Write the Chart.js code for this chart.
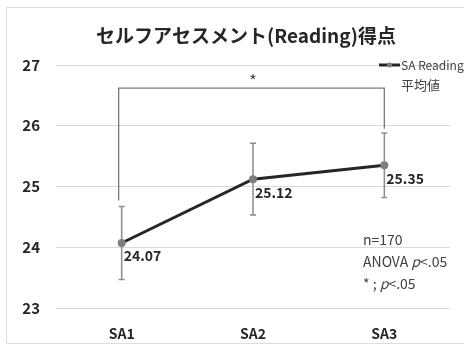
<!DOCTYPE html>
<html>
<head>
<meta charset="utf-8">
<script src="https://cdn.jsdelivr.net/npm/chart.js@4/dist/chart.umd.min.js"></script>
<style>
  html, body { margin: 0; padding: 0; background: #fff; }
  #wrap { width: 464px; height: 353px; position: relative; }
</style>
</head>
<body>
<div id="wrap"><canvas id="c" width="464" height="353"></canvas></div>
<script>
// Self-assessment (Reading) mean scores across three sessions
const categories = ['SA1', 'SA2', 'SA3'];
const means = [24.07, 25.12, 25.35];
const errors = [0.60, 0.59, 0.53];
const yTicks = [23, 24, 25, 26, 27];
const seriesName = 'SA Reading';
const seriesName2 = '平均値';
const chartTitle = 'セルフアセスメント(Reading)得点';
const notes = ['n=170', 'ANOVA ', '* ; '];
// significance bracket between SA1 and SA3 (value units)
const bracketFrom = 0;
const bracketTo = 2;
const bracketTop = 26.62;
const bracketLeftEnd = 24.77;
const bracketRightEnd = 25.95;

const FONT = '"Noto Sans CJK JP", "Noto Sans", sans-serif';

const decor = {
  id: 'decor',
  beforeDatasetsDraw(chart) {
    const ctx = chart.ctx;
    const x = chart.scales.x, y = chart.scales.y;
    ctx.save();
    // frame
    ctx.strokeStyle = '#dcdcdc';
    ctx.lineWidth = 1;
    ctx.strokeRect(6.5, 7.5, 470, 336);
    // error bars
    ctx.strokeStyle = '#8c8c8c';
    ctx.lineWidth = 1.5;
    means.forEach((m, i) => {
      const px = x.getPixelForValue(i);
      const t = y.getPixelForValue(m + errors[i]);
      const b = y.getPixelForValue(m - errors[i]);
      ctx.beginPath();
      ctx.moveTo(px, t); ctx.lineTo(px, b);
      ctx.moveTo(px - 3, t); ctx.lineTo(px + 3, t);
      ctx.moveTo(px - 3, b); ctx.lineTo(px + 3, b);
      ctx.stroke();
    });
    // bracket
    const bx1 = x.getPixelForValue(bracketFrom) - 3;
    const bx2 = x.getPixelForValue(bracketTo);
    const by = y.getPixelForValue(bracketTop);
    ctx.strokeStyle = '#7a7a7a';
    ctx.lineWidth = 1.3;
    ctx.beginPath();
    ctx.moveTo(bx1, y.getPixelForValue(bracketLeftEnd));
    ctx.lineTo(bx1, by);
    ctx.lineTo(bx2, by);
    ctx.lineTo(bx2, y.getPixelForValue(bracketRightEnd));
    ctx.stroke();
    ctx.fillStyle = '#404040';
    ctx.font = '16px ' + FONT;
    ctx.textAlign = 'center';
    ctx.textBaseline = 'middle';
    ctx.fillText('*', (x.getPixelForValue(bracketFrom) + bx2) / 2, by - 7);
    ctx.restore();
  },
  afterDraw(chart) {
    const ctx = chart.ctx;
    const x = chart.scales.x, y = chart.scales.y;
    ctx.save();
    // title
    ctx.fillStyle = '#262626';
    ctx.font = 'bold 19px ' + FONT;
    ctx.textAlign = 'center';
    ctx.textBaseline = 'middle';
    ctx.fillText(chartTitle, 246, 36);
    // value labels
    ctx.font = 'bold 14px ' + FONT;
    ctx.textAlign = 'left';
    means.forEach((m, i) => {
      const px = x.getPixelForValue(i);
      const py = y.getPixelForValue(m);
      ctx.fillText(m.toFixed(2), px + 2, py + 13);
    });
    // legend
    ctx.strokeStyle = '#262626';
    ctx.lineWidth = 3;
    ctx.beginPath();
    ctx.moveTo(379, 65); ctx.lineTo(400, 65);
    ctx.stroke();
    ctx.fillStyle = '#7f7f7f';
    ctx.beginPath();
    ctx.arc(389.5, 65, 2.5, 0, Math.PI * 2);
    ctx.fill();
    ctx.fillStyle = '#404040';
    ctx.font = '12px ' + FONT;
    ctx.fillText(seriesName, 401, 65);
    ctx.font = '13px ' + FONT;
    ctx.fillText(seriesName2, 401, 85);
    // notes
    ctx.font = '14px ' + FONT;
    const nx = 363;
    ctx.fillText(notes[0], nx, 240);
    ctx.fillText(notes[1], nx, 262);
    let w = ctx.measureText(notes[1]).width;
    ctx.font = 'italic 14px ' + FONT;
    ctx.fillText('p', nx + w, 262);
    let w2 = ctx.measureText('p').width;
    ctx.font = '14px ' + FONT;
    ctx.fillText('<.05', nx + w + w2, 262);
    ctx.fillText(notes[2], nx, 284);
    w = ctx.measureText(notes[2]).width;
    ctx.font = 'italic 14px ' + FONT;
    ctx.fillText('p', nx + w, 284);
    w2 = ctx.measureText('p').width;
    ctx.font = '14px ' + FONT;
    ctx.fillText('<.05', nx + w + w2, 284);
    ctx.restore();
  }
};

new Chart(document.getElementById('c'), {
  type: 'line',
  data: {
    labels: categories,
    datasets: [{
      label: seriesName,
      data: means,
      borderColor: '#262626',
      borderWidth: 3,
      pointRadius: 2.5,
      pointBackgroundColor: '#7f7f7f',
      pointBorderColor: '#7f7f7f',
      tension: 0
    }]
  },
  options: {
    responsive: false,
    animation: false,
    events: [],
    layout: { padding: { top: 65, right: 14, left: 0, bottom: 0 } },
    plugins: { legend: { display: false }, title: { display: false }, tooltip: { enabled: false } },
    scales: {
      x: {
        offset: true,
        grid: { display: false },
        border: { display: false },
        ticks: { color: '#262626', font: { family: FONT, size: 14, weight: 'bold' }, padding: 9 },
        afterFit(s) { s.height = 45; }
      },
      y: {
        min: 23, max: 27,
        afterBuildTicks(s) { s.ticks = yTicks.map(v => ({ value: v })); },
        grid: { color: '#d9d9d9', lineWidth: 1, drawTicks: false },
        border: { display: false },
        ticks: { color: '#262626', font: { family: FONT, size: 15, weight: 'bold' }, padding: 16 },
        afterFit(s) { s.width = 56; }
      }
    }
  },
  plugins: [decor]
});
</script>
</body>
</html>
